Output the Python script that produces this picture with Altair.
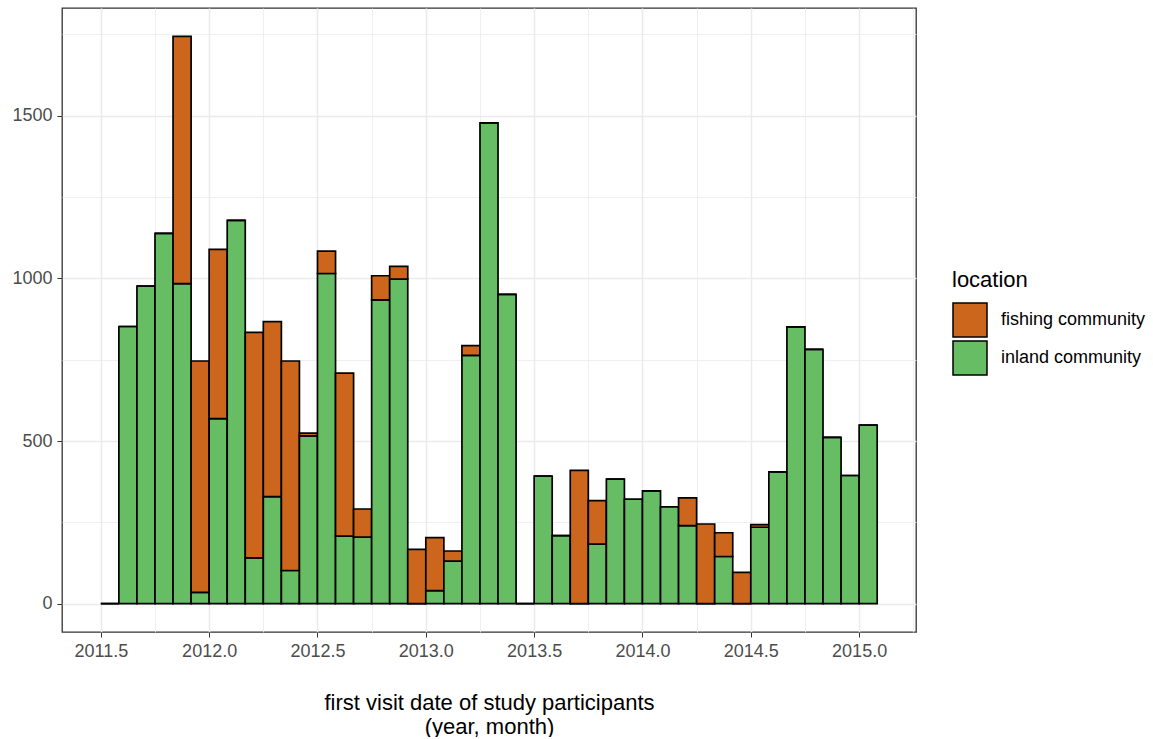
import altair as alt
import pandas as pd

# monthly bins (first visit month)
months = [
    "2011-07", "2011-08", "2011-09", "2011-10", "2011-11", "2011-12",
    "2012-01", "2012-02", "2012-03", "2012-04", "2012-05", "2012-06",
    "2012-07", "2012-08", "2012-09", "2012-10", "2012-11", "2012-12",
    "2013-01", "2013-02", "2013-03", "2013-04", "2013-05", "2013-06",
    "2013-07", "2013-08", "2013-09", "2013-10", "2013-11", "2013-12",
    "2014-01", "2014-02", "2014-03", "2014-04", "2014-05", "2014-06",
    "2014-07", "2014-08", "2014-09", "2014-10", "2014-11", "2014-12",
    "2015-01",
]
inland = [0, 852, 976, 1138, 984, 35, 569, 1178, 141, 329, 102, 516, 1015, 208, 205, 934, 998,
          0, 40, 131, 763, 1478, 951, 0, 392, 209, 0, 183, 383, 321, 347, 298, 240, 0, 145, 0,
          235, 405, 851, 782, 511, 394, 549]
fishing = [0, 0, 0, 0, 760, 711, 520, 0, 693, 538, 644, 8, 69, 501, 86, 74, 39,
           167, 163, 31, 30, 0, 0, 0, 0, 0, 410, 134, 0, 0, 0, 0, 85, 245, 73, 96,
           8, 0, 0, 0, 0, 0, 0]

locations = ["fishing community", "inland community"]
colors = ["#CC661D", "#66BD63"]

x_ticks = [2011.5, 2011.75, 2012.0, 2012.25, 2012.5, 2012.75, 2013.0, 2013.25, 2013.5,
           2013.75, 2014.0, 2014.25, 2014.5, 2014.75, 2015.0, 2015.25]
y_ticks = [0, 250, 500, 750, 1000, 1250, 1500, 1750]

rows = []
for m, i, f in zip(months, inland, fishing):
    y, mo = m.split("-")
    start = int(y) + (int(mo) - 1) / 12
    rows.append({"start": start, "end": start + 1 / 12, "location": "inland community", "n": i, "ord": 0})
    rows.append({"start": start, "end": start + 1 / 12, "location": "fishing community", "n": f, "ord": 1})
df = pd.DataFrame(rows)

xscale = alt.Scale(domain=[2011.3208, 2015.2625], nice=False, zero=False)
yscale = alt.Scale(domain=[-87, 1831], nice=False, zero=False)

x_minor = "datum.value % 0.5 != 0"
y_minor = "datum.value % 500 != 0"

bars = alt.Chart(df).transform_stack(
    stack="n", groupby=["start"], as_=["y0", "y1"],
    sort=[alt.SortField("ord", order="ascending")],
).mark_bar(stroke="black", strokeWidth=1.7, opacity=1).encode(
    x=alt.X("start:Q", scale=xscale,
            axis=alt.Axis(values=x_ticks,
                          labelExpr=f"({x_minor}) ? '' : format(datum.value, '.1f')",
                          title=["first visit date of study participants", "(year, month)"],
                          labelFontSize=18, labelColor="#4D4D4D", labelPadding=5,
                          tickColor="#333333", tickSize=5, tickWidth=1,
                          tickOpacity={"condition": {"test": x_minor, "value": 0}, "value": 1},
                          domain=False, grid=True, gridColor="#EBEBEB",
                          gridWidth={"condition": {"test": x_minor, "value": 0.8}, "value": 1.5},
                          titleFontSize=22, titleFontWeight="normal", titleColor="black",
                          titlePadding=32, titleLineHeight=24, labelOverlap=False)),
    x2="end:Q",
    y=alt.Y("y0:Q", scale=yscale,
            axis=alt.Axis(values=y_ticks,
                          labelExpr=f"({y_minor}) ? '' : format(datum.value, 'd')",
                          title=None,
                          labelFontSize=18, labelColor="#4D4D4D", labelPadding=5,
                          tickColor="#333333", tickSize=5, tickWidth=1,
                          tickOpacity={"condition": {"test": y_minor, "value": 0}, "value": 1},
                          domain=False, grid=True, gridColor="#EBEBEB",
                          gridWidth={"condition": {"test": y_minor, "value": 0.8}, "value": 1.5},
                          minExtent=57, maxExtent=57, labelOverlap=False)),
    y2="y1:Q",
    color=alt.Color("location:N", scale=alt.Scale(domain=locations, range=colors),
                    legend=alt.Legend(title="location", orient="none", legendX=890, legendY=262,
                                      titleFontSize=22, titleFontWeight="normal", titleColor="black",
                                      titlePadding=10, labelFontSize=18, labelColor="black",
                                      labelOffset=13, symbolType="square", symbolSize=1156,
                                      symbolStrokeColor="black", symbolStrokeWidth=1.5,
                                      symbolOpacity=1, rowPadding=-5)),
)

chart = bars.properties(
    width=854, height=624,
    padding={"left": 5, "top": 8, "right": 5, "bottom": 0},
).configure(font="Liberation Sans").configure_view(
    stroke="#333333", strokeWidth=1.3
)

chart.save("out.html", embed_options={"renderer": "svg", "actions": False})
